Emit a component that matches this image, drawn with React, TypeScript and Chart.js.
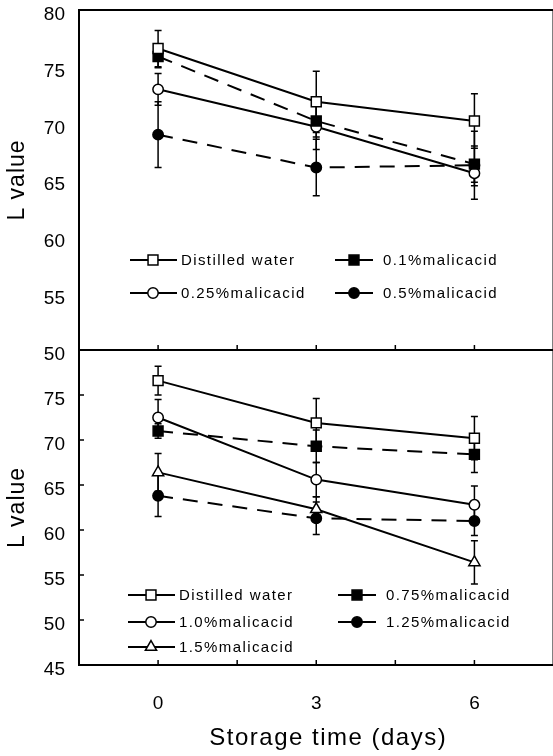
import React, { useEffect, useRef } from 'react';
import { Chart, registerables } from 'chart.js';
Chart.register(...registerables);

// ---------- data ----------
const days = [0, 3, 6];
const xTickLabels = [0, 3, 6];
const xMinorTicks = [0, 1.5, 3, 4.5, 6];
const topYTicks = [50, 55, 60, 65, 70, 75, 80];
const bottomYTicks = [45, 50, 55, 60, 65, 70, 75];

const topLabels = ['Distilled water', '0.1%malicacid', '0.25%malicacid', '0.5%malicacid'];
const distilledWater = [76.6, 71.9, 70.2];
const distilledWaterErr = [1.6, 2.7, 2.4];
const malic01 = [75.9, 70.2, 66.4];
const malic01Err = [1.0, 1.4, 1.6];
const malic025 = [73.0, 69.7, 65.6];
const malic025Err = [1.4, 2.0, 1.1];
const malic05 = [69.0, 66.1, 66.3];
const malic05Err = [2.9, 2.5, 3.0];

const bottomLabels = ['Distilled water', '0.75%malicacid', '1.0%malicacid', '1.25%malicacid', '1.5%malicacid'];
const malic075 = [71.0, 69.3, 68.4];
const malic075Err = [0.8, 1.8, 2.0];
const malic10 = [72.5, 65.6, 62.8];
const malic10Err = [2.0, 1.9, 2.1];
const malic125 = [63.8, 61.3, 61.0];
const malic125Err = [2.3, 1.8, 1.6];
const malic15 = [66.4, 62.3, 56.4];
const malic15Err = [2.1, 1.4, 2.4];

const xTitle = 'Storage time (days)';
const yTitle = 'L value';

// ---------- styles ----------
type Sty = { shape: 'rect' | 'circle' | 'triangle'; filled: boolean; dashed: boolean };
const S_OPEN_SQ: Sty = { shape: 'rect', filled: false, dashed: false };
const S_FILL_SQ: Sty = { shape: 'rect', filled: true, dashed: true };
const S_OPEN_CI: Sty = { shape: 'circle', filled: false, dashed: false };
const S_FILL_CI: Sty = { shape: 'circle', filled: true, dashed: true };
const S_OPEN_TR: Sty = { shape: 'triangle', filled: false, dashed: false };

const FONT = '"Liberation Sans", Arial, sans-serif';
const DASH = [15, 10];

function radiusFor(shape: string) {
  return shape === 'rect' ? 7 : shape === 'triangle' ? 6.5 : 5.2;
}

function makeDataset(label: string, vals: number[], errs: number[], sty: Sty) {
  return {
    label,
    data: days.map((d, i) => ({ x: d, y: vals[i] })),
    errors: errs,
    sty,
    borderColor: '#000',
    borderWidth: 2,
    borderDash: sty.dashed ? DASH : [],
    pointStyle: sty.shape,
    pointRadius: radiusFor(sty.shape),
    pointBackgroundColor: sty.filled ? '#000' : '#fff',
    pointBorderColor: '#000',
    pointBorderWidth: 1.5,
    fill: false,
    tension: 0,
  } as any;
}

function drawMarker(ctx: CanvasRenderingContext2D, sty: Sty, x: number, y: number) {
  const r = radiusFor(sty.shape);
  ctx.save();
  ctx.setLineDash([]);
  ctx.beginPath();
  if (sty.shape === 'rect') {
    const s = Math.SQRT1_2 * r;
    ctx.rect(x - s, y - s, 2 * s, 2 * s);
  } else if (sty.shape === 'circle') {
    ctx.arc(x, y, r, 0, Math.PI * 2);
  } else {
    let rad = 0;
    const T = (2 * Math.PI) / 3;
    ctx.moveTo(x + Math.sin(rad) * r, y - Math.cos(rad) * r);
    rad += T;
    ctx.lineTo(x + Math.sin(rad) * r, y - Math.cos(rad) * r);
    rad += T;
    ctx.lineTo(x + Math.sin(rad) * r, y - Math.cos(rad) * r);
    ctx.closePath();
  }
  ctx.fillStyle = sty.filled ? '#000' : '#fff';
  ctx.fill();
  ctx.lineWidth = 1.5;
  ctx.strokeStyle = '#000';
  ctx.stroke();
  ctx.restore();
}

type LegendCfg = { cols: number[]; rows: number[] };

function panelPlugin(opts: { legend: LegendCfg; yInnerTicks: number[]; xTitle: boolean }) {
  return {
    id: 'panel',
    beforeDatasetsDraw(chart: any) {
      const ctx = chart.ctx as CanvasRenderingContext2D;
      const xs = chart.scales.x;
      const ys = chart.scales.y;
      ctx.save();
      ctx.strokeStyle = '#000';
      ctx.lineWidth = 1.5;
      ctx.setLineDash([]);
      chart.data.datasets.forEach((ds: any) => {
        ds.data.forEach((p: any, j: number) => {
          const e = ds.errors[j];
          const x = xs.getPixelForValue(p.x);
          const y1 = ys.getPixelForValue(p.y + e);
          const y2 = ys.getPixelForValue(p.y - e);
          ctx.beginPath();
          ctx.moveTo(x, y1);
          ctx.lineTo(x, y2);
          ctx.moveTo(x - 3.5, y1);
          ctx.lineTo(x + 3.5, y1);
          ctx.moveTo(x - 3.5, y2);
          ctx.lineTo(x + 3.5, y2);
          ctx.stroke();
        });
      });
      ctx.restore();
    },
    afterDraw(chart: any) {
      const ctx = chart.ctx as CanvasRenderingContext2D;
      const a = chart.chartArea;
      const xs = chart.scales.x;
      const ys = chart.scales.y;
      ctx.save();
      ctx.setLineDash([]);
      ctx.strokeStyle = '#000';
      // frame
      ctx.lineWidth = 2;
      ctx.strokeRect(a.left, a.top, a.right - a.left, a.bottom - a.top);
      // inward ticks
      ctx.lineWidth = 1.5;
      ctx.beginPath();
      xMinorTicks.forEach((v) => {
        const x = xs.getPixelForValue(v);
        ctx.moveTo(x, a.bottom);
        ctx.lineTo(x, a.bottom - 5);
      });
      opts.yInnerTicks.forEach((v) => {
        const y = ys.getPixelForValue(v);
        ctx.moveTo(a.left, y);
        ctx.lineTo(a.left + 5, y);
      });
      ctx.stroke();

      // legend
      ctx.font = `15px ${FONT}`;
      (ctx as any).letterSpacing = '1.4px';
      ctx.textBaseline = 'middle';
      ctx.textAlign = 'left';
      ctx.fillStyle = '#000';
      chart.data.datasets.forEach((ds: any, i: number) => {
        const col = i % 2;
        const row = Math.floor(i / 2);
        const x0 = opts.legend.cols[col];
        const y = opts.legend.rows[row];
        const sty: Sty = ds.sty;
        const len = sty.dashed ? 38 : 47;
        ctx.save();
        ctx.lineWidth = 2;
        ctx.setLineDash(sty.dashed ? [14, 10] : []);
        ctx.beginPath();
        ctx.moveTo(x0, y);
        ctx.lineTo(x0 + len, y);
        ctx.stroke();
        ctx.restore();
        drawMarker(ctx, sty, x0 + (sty.dashed ? 19 : 23), y);
        ctx.fillText(ds.label, x0 + len + (sty.dashed ? 10 : 4), y + 1);
      });

      // y title
      (ctx as any).letterSpacing = '1px';
      ctx.save();
      ctx.translate(18, (a.top + a.bottom) / 2);
      ctx.rotate(-Math.PI / 2);
      ctx.font = `23px ${FONT}`;
      ctx.textAlign = 'center';
      ctx.textBaseline = 'middle';
      ctx.fillText(yTitle, 0, 0);
      ctx.restore();

      if (opts.xTitle) {
        (ctx as any).letterSpacing = '1.5px';
        ctx.font = `24px ${FONT}`;
        ctx.textAlign = 'center';
        ctx.textBaseline = 'middle';
        ctx.fillText(xTitle, (a.left + a.right) / 2 + 12, a.bottom + 73);
      }
      (ctx as any).letterSpacing = '0px';
      ctx.restore();
    },
  };
}

function makeConfig(p: {
  datasets: any[];
  yMin: number;
  yMax: number;
  yTicks: number[];
  showX: boolean;
  padding: any;
  legend: LegendCfg;
  yInner: number[];
}) {
  return {
    type: 'line',
    data: { datasets: p.datasets },
    options: {
      animation: false,
      responsive: false,
      devicePixelRatio: 1,
      layout: { padding: p.padding },
      plugins: { legend: { display: false }, tooltip: { enabled: false }, title: { display: false } },
      scales: {
        x: {
          type: 'linear',
          min: -1.5,
          max: 7.5,
          display: p.showX,
          afterBuildTicks: (s: any) => {
            s.ticks = xTickLabels.map((v) => ({ value: v }));
          },
          afterFit: (s: any) => {
            s.height = p.showX ? 91 : 0;
            s.paddingLeft = 0;
            s.paddingRight = 0;
          },
          grid: { display: false, drawTicks: false },
          border: { display: false },
          ticks: {
            font: { family: FONT, size: 19 },
            color: '#000',
            padding: 27,
            maxRotation: 0,
            autoSkip: false,
          },
        },
        y: {
          type: 'linear',
          min: p.yMin,
          max: p.yMax,
          afterBuildTicks: (s: any) => {
            s.ticks = p.yTicks.map((v) => ({ value: v }));
          },
          afterFit: (s: any) => {
            s.width = 79;
            s.paddingTop = 0;
            s.paddingBottom = 0;
          },
          grid: { display: false, drawTicks: false },
          border: { display: false },
          ticks: {
            font: { family: FONT, size: 19 },
            color: '#000',
            padding: 14,
            labelOffset: 5,
            autoSkip: false,
          },
        },
      },
    },
    plugins: [panelPlugin({ legend: p.legend, yInnerTicks: p.yInner, xTitle: p.showX })],
  } as any;
}

export default function App() {
  const topRef = useRef<HTMLCanvasElement>(null);
  const botRef = useRef<HTMLCanvasElement>(null);

  useEffect(() => {
    const topSets = [
      makeDataset(topLabels[0], distilledWater, distilledWaterErr, S_OPEN_SQ),
      makeDataset(topLabels[1], malic01, malic01Err, S_FILL_SQ),
      makeDataset(topLabels[2], malic025, malic025Err, S_OPEN_CI),
      makeDataset(topLabels[3], malic05, malic05Err, S_FILL_CI),
    ];
    const botSets = [
      makeDataset(bottomLabels[0], distilledWater, distilledWaterErr, S_OPEN_SQ),
      makeDataset(bottomLabels[1], malic075, malic075Err, S_FILL_SQ),
      makeDataset(bottomLabels[2], malic10, malic10Err, S_OPEN_CI),
      makeDataset(bottomLabels[3], malic125, malic125Err, S_FILL_CI),
      makeDataset(bottomLabels[4], malic15, malic15Err, S_OPEN_TR),
    ];
    const c1 = new Chart(
      topRef.current as HTMLCanvasElement,
      makeConfig({
        datasets: topSets,
        yMin: 50,
        yMax: 80,
        yTicks: topYTicks,
        showX: false,
        padding: { top: 10, right: 6, bottom: 22, left: 0 },
        legend: { cols: [130, 335], rows: [260, 293] },
        yInner: [],
      })
    );
    const c2 = new Chart(
      botRef.current as HTMLCanvasElement,
      makeConfig({
        datasets: botSets,
        yMin: 45,
        yMax: 80,
        yTicks: bottomYTicks,
        showX: true,
        padding: { top: 10, right: 6, bottom: 0, left: 0 },
        legend: { cols: [128, 338], rows: [255, 282, 307] },
        yInner: [50, 55, 60, 65, 70, 75],
      })
    );
    return () => {
      c1.destroy();
      c2.destroy();
    };
  }, []);

  return (
    <div
      style={{
        position: 'fixed',
        left: 0,
        top: 0,
        width: 553,
        height: 756,
        overflow: 'hidden',
        background: '#fff',
      }}
    >
      <canvas ref={topRef} width={562} height={372} style={{ position: 'absolute', left: 0, top: 0 }} />
      <canvas ref={botRef} width={562} height={416} style={{ position: 'absolute', left: 0, top: 340 }} />
    </div>
  );
}
